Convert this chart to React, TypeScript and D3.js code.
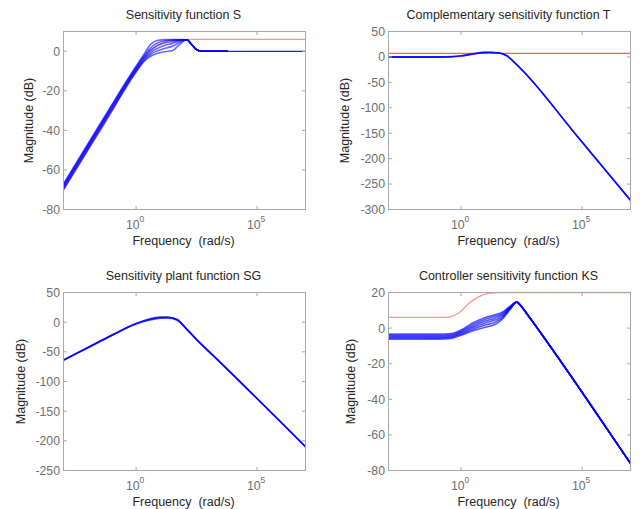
import React from 'react';
import * as d3 from 'd3';

// ---------- shared axis data ----------
const X_DOMAIN: [number, number] = [1e-3, 1e7];
const X_TICK_EXPONENTS = [0, 5];

// ---------- Sensitivity function S (log10 frequency, dB) ----------
const S_LF = [-3, -2, -1, -0.5, 0, 0.3, 0.6, 0.9, 1.2, 1.5, 1.8, 2.1, 2.3, 2.5, 2.7, 3.8];
const S_1 = [-67, -47, -27, -17, -7.5, -2, 3.5, 5.6, 5.9, 5.9, 5.9, 5.8, 3.3, 0.8, 0, 0];
const S_2 = [-67.5, -47.5, -27.5, -17.5, -8, -2.8, 1.8, 4.3, 5.3, 5.6, 5.8, 5.8, 3.3, 0.8, 0, 0];
const S_3 = [-68, -48, -28, -18, -8.7, -3.6, 0.6, 3, 4.3, 5, 5.6, 5.8, 3.3, 0.8, 0, 0];
const S_4 = [-68.7, -48.7, -28.7, -18.7, -9.3, -4.3, -0.5, 1.6, 3, 4, 5.2, 5.8, 3.3, 0.8, 0, 0];
const S_5 = [-69.3, -49.3, -29.3, -19.3, -10, -5, -1.5, 0.3, 1.5, 2.5, 4.6, 5.8, 3.3, 0.8, 0, 0];
const S_6 = [-70, -50, -30, -20, -10.5, -5.5, -2.5, -1, -0.2, 0.3, 3.5, 5.8, 3.3, 0.8, 0, 0];
const S_TAIL_LF = [2.7, 7];
const S_TAIL = [0, 0];
const S_BOUND_LF = [-3, -2, -1, -0.16, 0.38, 0.93, 1.34, 1.7, 2.2, 7];
const S_BOUND = [-70, -50.3, -30.5, -12, -2, 3.2, 5.4, 5.9, 6, 6];
const S_TICKS = [-80, -60, -40, -20, 0];

// ---------- Complementary sensitivity function T ----------
const T_LF = [-3, -1, -0.4, 0, 0.5, 0.9, 1.2, 1.6, 1.9, 2.24, 2.52, 4.8, 7];
const T_1 = [0, 0, 0.5, 2, 6, 8.8, 9, 7.5, 2, -12.4, -25.6, -156, -282];
const T_2 = [-0.5, -0.5, 0, 1.5, 5.3, 8.2, 8.6, 7.2, 1.5, -13, -26, -156.5, -282.5];
const T_3 = [0.4, 0.4, 0.8, 2.5, 6.5, 9.2, 9.4, 7.8, 2.5, -12, -25.2, -155.5, -281.5];
const T_BOUND_LF = [-3, 7];
const T_BOUND = [7, 7];
const T_TICKS = [-300, -250, -200, -150, -100, -50, 0, 50];

// ---------- Sensitivity plant function SG ----------
const SG_LF = [-3, -2, -1, 0, 0.5, 1.0, 1.3, 1.7, 2.05, 2.4, 2.64, 3.05, 7];
const SG_1 = [-64, -43, -22, -2.5, 4, 7.8, 8, 4, -10, -25, -35, -51, -210];
const SG_2 = [-64.5, -43.5, -22.5, -3, 3, 6.8, 7.2, 3.3, -10.6, -25.5, -35.5, -51.5, -210.5];
const SG_3 = [-63.5, -42.5, -21.5, -2, 4.8, 8.6, 8.8, 4.7, -9.4, -24.5, -34.5, -50.5, -209.5];
const SG_TICKS = [-250, -200, -150, -100, -50, 0, 50];

// ---------- Controller sensitivity function KS ----------
const KS_LF = [-3, -1, -0.4, 0, 0.5, 1.0, 1.4, 1.7, 2.0, 2.3, 2.5, 2.8, 5, 7];
const KS_1 = [-3.3, -3.3, -3, -1, 3, 6, 7.5, 9, 12, 14.8, 12, 6.5, -36, -76];
const KS_2 = [-3.9, -3.9, -3.6, -1.6, 2.1, 5, 6.6, 8.2, 11.6, 14.7, 12, 6.5, -36, -76];
const KS_3 = [-4.5, -4.5, -4.2, -2.2, 1.2, 4, 5.6, 7.4, 11.2, 14.7, 12, 6.5, -36, -76];
const KS_4 = [-5.1, -5.1, -4.8, -2.8, 0.3, 2.9, 4.5, 6.6, 10.9, 14.6, 12, 6.5, -36, -76];
const KS_5 = [-5.7, -5.7, -5.3, -3.4, -0.6, 1.7, 3.3, 5.8, 10.5, 14.5, 12, 6.5, -36, -76];
const KS_6 = [-6.3, -6.2, -5.8, -4, -1.5, 0.5, 2, 5, 10, 14.5, 12, 6.5, -36, -76];
const KS_BOUND_LF = [-3, -0.66, -0.1, 0.3, 0.72, 1.14, 1.6, 7];
const KS_BOUND = [6, 6, 8.5, 13.5, 17.5, 19.5, 20, 20];
const KS_TICKS = [-80, -60, -40, -20, 0, 20];

type Pt = [number, number];
const zip = (lf: number[], db: number[]): Pt[] => lf.map((l, i) => [Math.pow(10, l), db[i]]);

interface Series { pts: Pt[]; color: string; width: number; opacity: number }

interface PanelProps {
  id: string;
  left: number; top: number; right: number; bottom: number;
  title: string;
  yDomain: [number, number];
  yTicks: number[];
  yLabelX: number;
  series: Series[];
}

const FONT = '"Liberation Sans", Arial, sans-serif';

function Panel(p: PanelProps) {
  const x = d3.scaleLog().domain(X_DOMAIN).range([p.left, p.right]);
  const y = d3.scaleLinear().domain(p.yDomain).range([p.bottom, p.top]);
  const line = d3.line<Pt>().x(d => x(d[0])).y(d => y(d[1])).curve(d3.curveMonotoneX);
  const cx = (p.left + p.right) / 2;
  const cy = (p.top + p.bottom) / 2;
  const tl = 3.5;
  return (
    <g>
      <defs>
        <clipPath id={p.id}>
          <rect x={p.left} y={p.top - 1} width={p.right - p.left} height={p.bottom - p.top + 2} />
        </clipPath>
      </defs>
      <g clipPath={`url(#${p.id})`}>
        {p.series.map((s, i) => (
          <path key={i} d={line(s.pts) || ''} fill="none" stroke={s.color}
            strokeWidth={s.width} strokeOpacity={s.opacity} strokeLinejoin="round" />
        ))}
      </g>
      <rect x={p.left} y={p.top} width={p.right - p.left} height={p.bottom - p.top}
        fill="none" stroke="#a8a8a8" strokeWidth={1} />
      {p.yTicks.map(t => (
        <g key={'y' + t}>
          <line x1={p.left} x2={p.left + tl} y1={y(t)} y2={y(t)} stroke="#a8a8a8" />
          <line x1={p.right} x2={p.right - tl} y1={y(t)} y2={y(t)} stroke="#a8a8a8" />
          <text x={p.left - 3.5} y={y(t)} dy="0.36em" textAnchor="end" fontSize={12.3}
            fontFamily={FONT} fill="#6e6e6e">{t}</text>
        </g>
      ))}
      {X_TICK_EXPONENTS.map(e => {
        const xv = x(Math.pow(10, e));
        return (
          <g key={'x' + e}>
            <line x1={xv} x2={xv} y1={p.bottom} y2={p.bottom - tl} stroke="#a8a8a8" />
            <line x1={xv} x2={xv} y1={p.top} y2={p.top + tl} stroke="#a8a8a8" />
            <text x={xv - 1} y={p.bottom + 19} textAnchor="middle" fontSize={12.3}
              fontFamily={FONT} fill="#6e6e6e">
              10<tspan fontSize={8.5} dy={-7}>{e}</tspan>
            </text>
          </g>
        );
      })}
      <text x={cx - 1} y={p.top - 12.5} textAnchor="middle" fontSize={12.5}
        fontFamily={FONT} fill="#262626">{p.title}</text>
      <text x={cx - 1} y={p.bottom + 35} textAnchor="middle" fontSize={12.5}
        fontFamily={FONT} fill="#262626" style={{ whiteSpace: 'pre' }}>{'Frequency  (rad/s)'}</text>
      <text transform={`translate(${p.yLabelX},${cy}) rotate(-90)`} textAnchor="middle"
        fontSize={12.5} fontFamily={FONT} fill="#262626">Magnitude (dB)</text>
    </g>
  );
}

const BLUE = '#0000ff';
const RED = '#ff4040';

export default function App() {
  const fam = (lf: number[], arr: number[][], op: number, w: number): Series[] =>
    arr.map(a => ({ pts: zip(lf, a), color: BLUE, width: w, opacity: op }));

  const sSeries: Series[] = [
    { pts: zip(S_BOUND_LF, S_BOUND), color: RED, width: 1.4, opacity: 0.55 },
    ...fam(S_LF, [S_1, S_2, S_3, S_4, S_5, S_6], 0.6, 1.6),
    { pts: zip(S_TAIL_LF, S_TAIL), color: BLUE, width: 1.3, opacity: 0.9 },
  ];
  const tSeries: Series[] = [
    { pts: zip(T_BOUND_LF, T_BOUND), color: RED, width: 1.3, opacity: 0.85 },
    ...fam(T_LF, [T_1, T_2, T_3], 0.7, 1.4),
  ];
  const sgSeries: Series[] = fam(SG_LF, [SG_1, SG_2, SG_3], 0.75, 1.5);
  const ksSeries: Series[] = [
    { pts: zip(KS_BOUND_LF, KS_BOUND), color: RED, width: 1.3, opacity: 0.55 },
    ...fam(KS_LF, [KS_1, KS_2, KS_3, KS_4, KS_5, KS_6], 0.65, 1.6),
  ];

  return (
    <svg width={640} height={509} style={{ position: 'absolute', left: 0, top: 0, background: '#fff' }}>
      <rect width={640} height={509} fill="#fff" />
      <Panel id="cpS" left={63.5} top={31.5} right={305.5} bottom={209.5}
        title="Sensitivity function S" yDomain={[-80, 10]} yTicks={S_TICKS} yLabelX={32.5} series={sSeries} />
      <Panel id="cpT" left={388.5} top={31.5} right={630.5} bottom={209.5}
        title="Complementary sensitivity function T" yDomain={[-300, 50]} yTicks={T_TICKS} yLabelX={349} series={tSeries} />
      <Panel id="cpSG" left={63.5} top={292.5} right={305.5} bottom={470.5}
        title="Sensitivity plant function SG" yDomain={[-250, 50]} yTicks={SG_TICKS} yLabelX={25} series={sgSeries} />
      <Panel id="cpKS" left={388.5} top={292.5} right={630.5} bottom={470.5}
        title="Controller sensitivity function KS" yDomain={[-80, 20]} yTicks={KS_TICKS} yLabelX={355} series={ksSeries} />
    </svg>
  );
}
